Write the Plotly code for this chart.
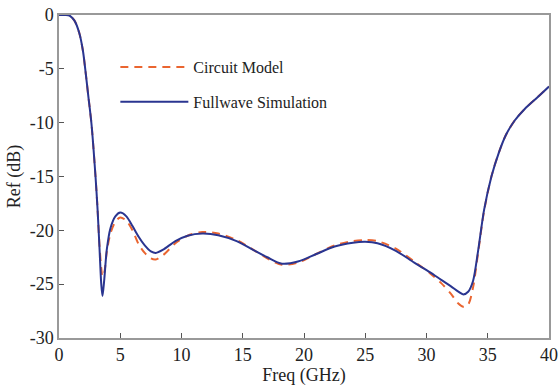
import plotly.graph_objects as go

freq = [0, 0.5, 0.85, 1.25, 1.65, 1.95, 2.15, 2.4, 2.65, 2.98, 3.15, 3.3, 3.45, 3.55, 3.7, 3.9, 4.2, 4.6,
        5.0, 5.5, 6.0, 6.5, 7.0, 7.5, 7.9, 8.5, 9.5, 10.5, 11.7, 13, 14.5, 16, 17, 18.2, 19.5, 21,
        22.5, 24, 25, 26, 27.5, 29, 30.3, 31.2, 32, 32.6, 33.0, 33.4, 33.8, 34.2, 34.7, 35.3, 35.9,
        36.5, 37.2, 38.0, 39.0, 40]

fullwave = [0, 0, -0.05, -0.5, -1.65, -3.3, -5.1, -7.6, -10.1, -15.0, -18.1, -21.5, -25.0, -26.1,
            -24.5, -21.8, -19.8, -18.7, -18.35, -18.7, -19.6, -20.6, -21.4, -21.95, -22.1, -21.8,
            -21.0, -20.5, -20.3, -20.45, -21.0, -21.9, -22.5, -23.1, -22.9, -22.2, -21.5, -21.15,
            -21.07, -21.2, -21.9, -23.0, -23.9, -24.6, -25.2, -25.7, -25.95, -25.7, -24.7, -22.0,
            -18.1, -15.0, -12.8, -11.1, -9.8, -8.75, -7.7, -6.65]

circuit = [0, 0, -0.05, -0.5, -1.65, -3.3, -5.1, -7.6, -10.1, -15.0, -18.1, -21.3, -23.5, -24.3,
           -23.9, -22.0, -20.3, -19.2, -18.8, -19.1, -20.0, -21.3, -22.1, -22.6, -22.7, -22.3,
           -21.2, -20.5, -20.15, -20.3, -20.9, -21.9, -22.6, -23.2, -23.0, -22.2, -21.4, -21.0,
           -20.9, -21.0, -21.7, -22.9, -24.0, -24.9, -25.9, -26.8, -27.1, -26.9, -25.3, -22.2,
           -18.2, -15.0, -12.8, -11.1, -9.8, -8.75, -7.7, -6.65]

xticks = [0, 5, 10, 15, 20, 25, 30, 35, 40]
yticks = [0, -5, -10, -15, -20, -25, -30]
ytick_labels = ["0", "-5", "-10", "-15", "-20", "-25", "-30"]

FONT = "Liberation Serif"
ORANGE = "#EA6530"
BLUE = "#2A3590"

fig = go.Figure()
fig.add_trace(go.Scatter(x=freq, y=circuit, mode="lines", name="Circuit Model", showlegend=True,
                         line=dict(color=ORANGE, width=2, dash="8px,6px", shape="spline", smoothing=0.8),
                         legend="legend"))
fig.add_trace(go.Scatter(x=freq, y=fullwave, mode="lines", name="Fullwave Simulation", showlegend=True,
                         line=dict(color=BLUE, width=2, shape="spline", smoothing=0.8),
                         legend="legend2"))

axis_common = dict(showline=True, mirror=True, linecolor="#999999", linewidth=1.5,
                   ticks="inside", ticklen=5, tickcolor="#555555", tickwidth=1,
                   showgrid=False, zeroline=False, automargin=False,
                   tickfont=dict(family=FONT, size=18, color="#222222"))

legend_common = dict(xanchor="left", yanchor="middle", bgcolor="rgba(0,0,0,0)",
                     font=dict(family=FONT, size=16, color="#222222"), itemwidth=68)

fig.update_layout(
    width=559, height=392,
    showlegend=True,
    margin=dict(l=59, r=10, t=15, b=54),
    plot_bgcolor="white", paper_bgcolor="white",
    font=dict(family=FONT, color="#222222"),
    xaxis=dict(range=[0, 40], tickvals=xticks, title=dict(text="Freq (GHz)", font=dict(size=18), standoff=4),
               **axis_common),
    yaxis=dict(range=[-30, 0], tickvals=yticks, ticktext=ytick_labels,
               title=dict(text="Ref (dB)", font=dict(size=18), standoff=4), **axis_common),
    legend=dict(x=0.115, y=0.839, **legend_common),
    legend2=dict(x=0.115, y=0.731, **legend_common),
)

fig.write_html("out.html")
